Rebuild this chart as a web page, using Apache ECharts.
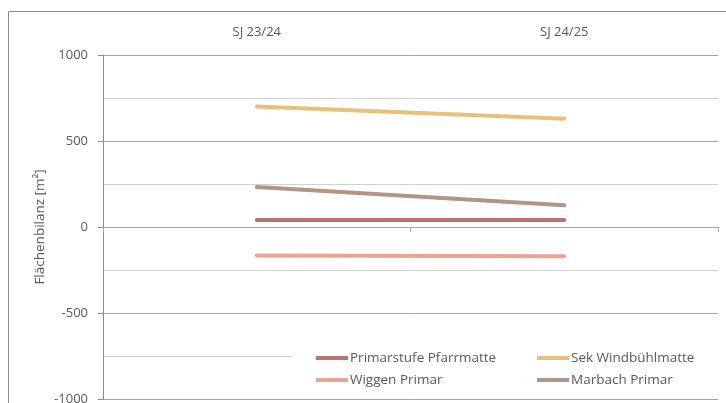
<!DOCTYPE html>
<html>
<head>
<meta charset="utf-8">
<script src="https://cdn.jsdelivr.net/npm/echarts@6/dist/echarts.min.js"></script>
<style>
html,body{margin:0;padding:0;background:#fff;overflow:hidden;}
#chart{width:726px;height:403px;}
</style>
</head>
<body>
<div id="chart"></div>
<script>
// Daten
var categories = ['SJ 23/24', 'SJ 24/25'];
var pfarrmatte = [40, 40];        // Primarstufe Pfarrmatte
var windbuehl = [700, 630];       // Sek Windbühlmatte
var wiggen = [-165, -170];        // Wiggen Primar
var marbach = [232, 126];         // Marbach Primar
var yTicks = [-1000, -500, 0, 500, 1000];

var fontFam = '"Open Sans", "Noto Sans", sans-serif';
var textCol = '#595959';

var myChart = echarts.init(document.getElementById('chart'));

function lineSeries(name, data, color){
    return {
        name: name,
        type: 'line',
        xAxisIndex: 0,
        data: data,
        symbol: 'none',
        lineStyle: {width: 4, color: color, cap: 'round'},
        itemStyle: {color: color}
    };
}

// Legende: zwei Spalten
function legendCol(left, names){
    return {
        orient: 'vertical',
        left: left, top: 351,
        itemGap: 8,
        itemWidth: 32, itemHeight: 4,
        icon: 'rect',
        padding: 0,
        textStyle: {fontSize: 13.5, color: textCol, fontFamily: fontFam, padding: [0, 0, 0, -3]},
        data: names
    };
}

var option = {
    animation: false,
    backgroundColor: '#fff',
    textStyle: {fontFamily: fontFam},
    graphic: [{
        type: 'rect',
        shape: {x: 8.5, y: 11.5, width: 800, height: 500},
        style: {fill: null, stroke: '#8c8c8c', lineWidth: 1},
        z: -10
    }, {
        // weisser Hintergrund der Legende (verdeckt Gitterlinie)
        type: 'rect',
        shape: {x: 293, y: 335, width: 426, height: 60},
        style: {fill: '#fff'},
        z: 1
    }],
    grid: {left: 103, right: 8, top: 55, bottom: 4, outerBoundsMode: 'none', containLabel: false},
    legend: [
        legendCol(316, ['Primarstufe Pfarrmatte', 'Wiggen Primar']),
        legendCol(537, ['Sek Windbühlmatte', 'Marbach Primar'])
    ],
    xAxis: [{
        type: 'category',
        data: categories,
        boundaryGap: true,
        position: 'bottom',
        axisLine: {onZero: true, lineStyle: {color: '#a6a6a6', width: 1}},
        axisTick: {show: true, length: 5, lineStyle: {color: '#a6a6a6'}},
        axisLabel: {show: false},
        splitLine: {show: false}
    }, {
        type: 'category',
        data: categories,
        boundaryGap: true,
        position: 'top',
        axisLine: {show: false, onZero: false},
        axisTick: {show: false},
        axisLabel: {show: true, margin: 16, fontSize: 13, color: textCol, fontFamily: fontFam},
        splitLine: {show: false}
    }],
    yAxis: {
        type: 'value',
        min: yTicks[0],
        max: yTicks[yTicks.length - 1],
        interval: 500,
        name: 'Flächenbilanz [m²]',
        nameLocation: 'middle',
        nameGap: 56,
        nameMoveOverlap: false,
        nameTextStyle: {fontSize: 13.5, color: textCol, fontFamily: fontFam},
        axisLine: {show: true, lineStyle: {color: '#8c8c8c', width: 1}},
        axisTick: {show: true, length: 5, lineStyle: {color: '#8c8c8c'}},
        axisLabel: {
            margin: 15, fontSize: 13, color: textCol, fontFamily: fontFam,
            formatter: function(v){ return String(v); }
        },
        splitLine: {show: true, lineStyle: {color: '#a6a6a6', width: 1}},
        minorTick: {show: false, splitNumber: 2},
        minorSplitLine: {show: true, lineStyle: {color: '#d0d0d0', width: 1}}
    },
    series: [
        lineSeries('Primarstufe Pfarrmatte', pfarrmatte, '#b87471'),
        lineSeries('Sek Windbühlmatte', windbuehl, '#e8c07c'),
        lineSeries('Wiggen Primar', wiggen, '#eba394'),
        lineSeries('Marbach Primar', marbach, '#b39488')
    ]
};

myChart.setOption(option);
</script>
</body>
</html>
